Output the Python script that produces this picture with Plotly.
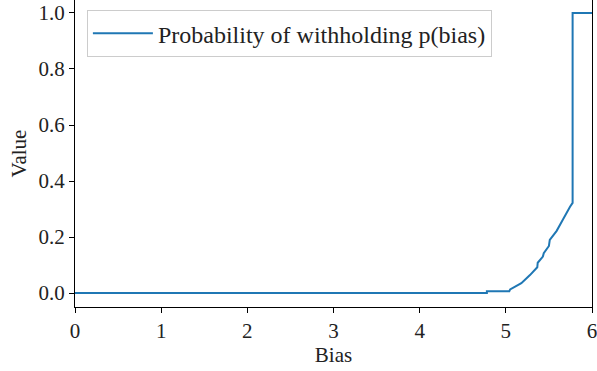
import plotly.graph_objects as go

bias = [0.0, 4.78, 4.78, 5.04, 5.05, 5.18, 5.28, 5.365, 5.37, 5.43, 5.44,
        5.50, 5.51, 5.59, 5.65, 5.69, 5.725, 5.745, 5.775, 5.775, 6.0]
p_withhold = [0.0, 0.0, 0.006, 0.006, 0.013, 0.035, 0.064, 0.092, 0.108, 0.13, 0.142,
              0.168, 0.19, 0.222, 0.255, 0.279, 0.296, 0.308, 0.322, 1.0, 1.0]

x_ticks = [0, 1, 2, 3, 4, 5, 6]
y_ticks = [0.0, 0.2, 0.4, 0.6, 0.8, 1.0]

font_family = "Liberation Serif"

fig = go.Figure()
fig.add_trace(go.Scatter(
    x=bias, y=p_withhold, mode="lines",
    line=dict(color="#1f77b4", width=2),
    name="Probability of withholding p(bias)",
))

fig.update_layout(
    width=597, height=371,
    margin=dict(l=75, r=5, t=0, b=64),
    paper_bgcolor="white", plot_bgcolor="white",
    font=dict(family=font_family, size=21, color="black"),
    showlegend=True,
    legend=dict(
        x=0.023, y=0.967, xanchor="left", yanchor="top",
        bgcolor="rgba(255,255,255,0.8)", bordercolor="#cccccc", borderwidth=1,
        itemwidth=60,
        font=dict(family=font_family, size=24, color="#222222"),
    ),
    xaxis=dict(
        range=[0, 6], tickvals=x_ticks, ticks="outside", ticklen=5, tickwidth=1,
        tickcolor="black", showline=True, linecolor="black", linewidth=1, mirror=True,
        showgrid=False, zeroline=False, automargin=False, ticklabeloverflow="allow",
        tickfont=dict(family=font_family, size=21, color="#222222"),
        title=dict(text="Bias", standoff=4, font=dict(family=font_family, size=21, color="#222222")),
    ),
    yaxis=dict(
        range=[-0.05, 1.0464], tickvals=y_ticks, tickformat=".1f", ticks="outside",
        ticklen=5, tickwidth=1, tickcolor="black", showline=True, linecolor="black",
        linewidth=1, mirror=True, showgrid=False, zeroline=False, automargin=False,
        tickfont=dict(family=font_family, size=21, color="#222222"),
        title=dict(text="Value", standoff=6, font=dict(family=font_family, size=21, color="#222222")),
    ),
)

fig.write_html(
    "out.html",
    config={"displayModeBar": False},
    post_script="document.body.style.margin='0';document.body.style.overflow='hidden';",
)
